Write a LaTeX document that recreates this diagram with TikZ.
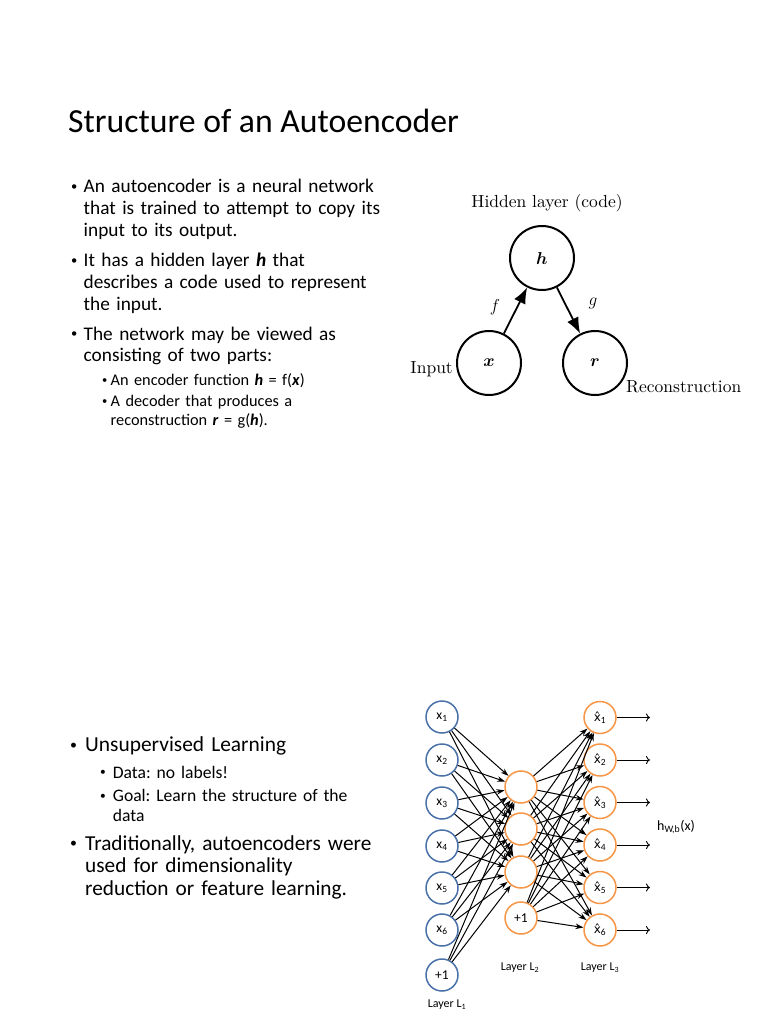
\documentclass[tikz,border=0pt]{standalone}
\usepackage{amsmath}
\usepackage{fontspec}
\setmainfont{Carlito}
\newfontfamily\lmfont{lmroman10-regular.otf}
\newfontfamily\djvfont{DejaVu Sans}
\usetikzlibrary{arrows.meta}
\definecolor{layerblue}{HTML}{4A72A8}
\definecolor{layerorange}{HTML}{F79646}
\newcommand{\bul}[1]{\llap{\makebox[#1][l]{\raisebox{0.12em}{\scalebox{0.65}{\textbullet}}}}}
\newcommand{\bi}[1]{\textbf{\textit{#1}}}

\begin{document}
\frenchspacing
\begin{tikzpicture}[x=1pt,y=-1pt,
  para/.style={anchor=base west, inner sep=0pt, text width=330pt, align=left},
  unit/.style={circle, draw, line width=2pt, minimum size=64pt, inner sep=0pt,
    font=\fontsize{17.5}{20}\selectfont},
  lbl/.style={inner sep=0pt, font=\lmfont\fontsize{17.5}{21}\selectfont},
  inunit/.style={circle, draw=layerblue, line width=1.5pt, minimum size=32pt,
    inner sep=0pt, font=\fontsize{13.5}{15}\selectfont},
  hidunit/.style={inunit, draw=layerorange},
  conn/.style={-{Stealth[length=8pt,width=5.5pt]}, line width=1pt},
  small/.style={inner sep=0pt, font=\fontsize{12}{14}\selectfont}]
  \useasboundingbox (0,0) rectangle (768,1024);
  \fill[white] (0,0) rectangle (768,1024);

  % title and text
  \node[anchor=base west, inner sep=0pt] (title) at (68,133)
    {\fontsize{33.7}{40}\selectfont Structure of an Autoencoder};
  \begin{scope}[font=\fontsize{19.3}{21.7}\selectfont]
    \node[para] (p1) at (83.5,193) {\bul{12.5pt}An autoencoder is a neural network\\
      that is trained to attempt to copy its\\input to its output.};
    \node[para] (p2) at (83.5,266.7) {\bul{12.5pt}It has a hidden layer \bi{h} that\\
      describes a code used to represent\\the input.};
    \node[para] (p3) at (83.5,340) {\bul{12.5pt}The network may be viewed as\\
      consisting of two parts:};
  \end{scope}
  \begin{scope}[font=\fontsize{16.3}{18.3}\selectfont]
    \node[para] (s1) at (110.5,385) {\bul{8.5pt}An encoder function \bi{h} = f(\bi{x})};
    \node[para] (s2) at (110.5,406.7) {\bul{8.5pt}A decoder that produces a\\
      reconstruction \bi{r} = g(\bi{h}).};
  \end{scope}

  \node[para, font=\fontsize{21.4}{23}\selectfont] (q1) at (85,751.7)
    {\bul{15pt}Unsupervised Learning};
  \begin{scope}[font=\fontsize{17.6}{20}\selectfont]
    \node[para] (t1) at (112.7,778) {\bul{12.7pt}Data: no labels!};
    \node[para] (t2) at (112.7,801.7) {\bul{12.7pt}Goal: Learn the structure of the\\data};
  \end{scope}
  \node[para, font=\fontsize{21.3}{22.5}\selectfont] (q2) at (85,850)
    {\bul{15pt}Traditionally, autoencoders were\\used for dimensionality\\
    reduction or feature learning.};

  % autoencoder graph
  \node[unit] (h) at (542,258) {$\boldsymbol{h}$};
  \node[unit] (x) at (489,363) {$\boldsymbol{x}$};
  \node[unit] (r) at (595,363) {$\boldsymbol{r}$};
  \node[lbl] (hl) at (547,203) {Hidden layer (code)};
  \node[lbl, anchor=east] (inp) at (453,369) {Input};
  \node[lbl, anchor=west] (rec) at (626,387) {Reconstruction};
  \node[lbl] (f) at (495,307) {$f$};
  \node[lbl] (g) at (593,303) {$g$};
  \draw[-{Latex[length=16pt,width=12.5pt]}, line width=1.8pt] (x) -- (h);
  \draw[-{Latex[length=16pt,width=12.5pt]}, line width=1.8pt] (h) -- (r);

  % network
  \foreach \i/\y in {1/717,2/760,3/803,4/846,5/888,6/930}
    \node[inunit] (x\i) at (442,\y) {x\textsubscript{\i}};
  \node[inunit] (x7) at (442,975) {+1};
  \foreach \j/\y in {1/787,2/829,3/872}
    \node[hidunit] (a\j) at (521,\y) {};
  \node[hidunit] (a4) at (521,918) {+1};
  \foreach \k/\y in {1/717.5,2/760,3/802.5,4/845,5/887.5,6/930} {
    \node[hidunit] (y\k) at (600,\y) {{\djvfont\fontsize{12}{14}\selectfont x̂}\textsubscript{\k}};
    \coordinate (o\k) at (650,\y);
    \draw[-{To[length=4pt,width=8pt]}, line width=0.9pt] (y\k) -- (o\k);
  }
  \foreach \i in {1,...,7}
    \foreach \j in {1,2,3}
      \draw[conn] (x\i) -- (a\j);
  \foreach \j in {1,...,4}
    \foreach \k in {1,...,6}
      \draw[conn] (a\j) -- (y\k);
  \node[small, font=\fontsize{14}{16}\selectfont] (hwb) at (676,827) {h\textsubscript{W,b}(x)};
  \node[small] (l1) at (447,1005) {Layer L\textsubscript{1}};
  \node[small] (l2) at (520,968) {Layer L\textsubscript{2}};
  \node[small] (l3) at (600,968) {Layer L\textsubscript{3}};
\end{tikzpicture}
\end{document}
